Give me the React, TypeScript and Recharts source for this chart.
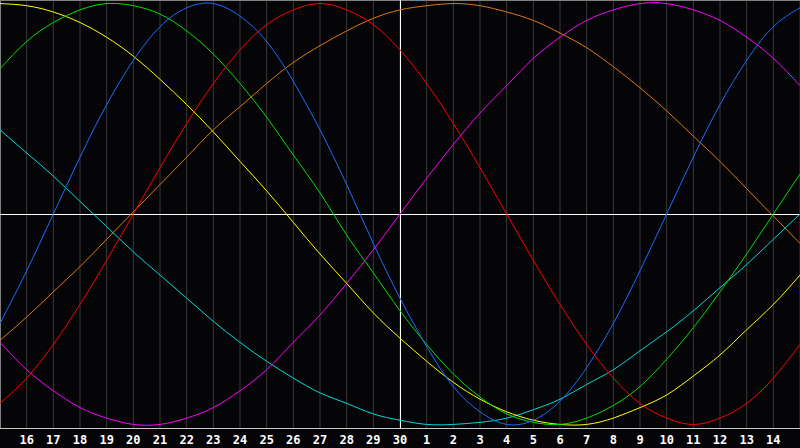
import React from 'react';
import { LineChart, Line, XAxis, YAxis, CartesianGrid, ReferenceLine } from 'recharts';

// day slots, -1 and 29 are the half-visible edges
const slots = [-1, 0, 1, 2, 3, 4, 5, 6, 7, 8, 9, 10, 11, 12, 13, 14, 15, 16, 17, 18, 19, 20, 21, 22, 23, 24, 25, 26, 27, 28, 29];
const dayLabels = ['16', '17', '18', '19', '20', '21', '22', '23', '24', '25', '26', '27', '28', '29', '30',
  '1', '2', '3', '4', '5', '6', '7', '8', '9', '10', '11', '12', '13', '14'];

const red = [-90, -78, -62, -43, -22, 0, 22, 43, 62, 78, 90, 97, 100, 97, 90, 78, 62, 43, 22, 0, -22, -43, -62, -78, -90, -97, -100, -97, -90, -78, -62];
const green = [69, 82, 91, 97, 100, 99, 95, 87, 76, 62, 46, 28, 10, -10, -28, -46, -62, -76, -87, -95, -99, -100, -97, -91, -82, -69, -54, -37, -19, 0, 19];
const blue = [-52, -27, 0, 27, 52, 73, 89, 98, 100, 94, 82, 63, 40, 14, -14, -40, -63, -82, -94, -100, -98, -89, -73, -52, -27, 0, 27, 52, 73, 89, 98];
const yellow = [100, 99, 96, 91, 84, 75, 64, 52, 39, 25, 11, -4, -19, -33, -47, -59, -70, -80, -88, -94, -98, -100, -100, -97, -92, -86, -77, -67, -55, -43, -29];
const magenta = [-61, -74, -84, -92, -97, -100, -100, -97, -92, -84, -74, -61, -48, -33, -17, 0, 17, 33, 48, 61, 74, 84, 92, 97, 100, 100, 97, 92, 84, 74, 61];
const cyan = [40, 29, 18, 6, -6, -18, -29, -40, -51, -61, -70, -78, -85, -90, -95, -98, -100, -100, -99, -97, -93, -88, -81, -74, -65, -56, -46, -35, -24, -12, 0];
const orange = [-60, -49, -37, -25, -12, 1, 14, 27, 40, 51, 62, 72, 80, 87, 93, 97, 99, 100, 99, 96, 92, 86, 79, 70, 60, 49, 37, 25, 12, -1, -14];

const data = slots.map((t, i) => ({
  t,
  red: red[i],
  green: green[i],
  blue: blue[i],
  yellow: yellow[i],
  magenta: magenta[i],
  cyan: cyan[i],
  orange: orange[i],
}));

const series = [
  { key: 'cyan', color: '#00d8d8' },
  { key: 'orange', color: '#e07810' },
  { key: 'magenta', color: '#ff00ff' },
  { key: 'yellow', color: '#ffff00' },
  { key: 'green', color: '#00e000' },
  { key: 'blue', color: '#1a6cff' },
  { key: 'red', color: '#ff0000' },
];

const ticks = dayLabels.map((_, i) => i);
const TOP = 101.7;

export default function App() {
  return (
    <div style={{ position: 'absolute', left: 0, top: 0, width: 800, height: 448, background: '#050508' }}>
      <LineChart width={800} height={448} data={data} margin={{ top: 0, right: 0, bottom: 0, left: 0 }}>
        <CartesianGrid horizontal={false} stroke="#3a3a3a" />
        <XAxis
          dataKey="t"
          type="number"
          domain={[-1, 29]}
          ticks={ticks}
          interval={0}
          height={20}
          tickLine={false}
          tickSize={5}
          tickMargin={2}
          axisLine={{ stroke: '#c8c8c8', shapeRendering: 'crispEdges' }}
          tickFormatter={(v) => dayLabels[v]}
          tick={{ fill: '#ffffff', fontFamily: 'DejaVu Sans Mono', fontWeight: 'bold', fontSize: 12 }}
        />
        <YAxis hide domain={[-TOP, TOP]} />
        <ReferenceLine x={-1} stroke="#808080" shapeRendering="crispEdges" />
        <ReferenceLine y={TOP} stroke="#808080" shapeRendering="crispEdges" />
        <ReferenceLine y={0} stroke="#ffffff" shapeRendering="crispEdges" />
        <ReferenceLine x={14} stroke="#ffffff" shapeRendering="crispEdges" />
        {series.map((s) => (
          <Line
            key={s.key}
            dataKey={s.key}
            type="natural"
            stroke={s.color}
            strokeWidth={1}
            dot={false}
            activeDot={false}
            isAnimationActive={false}
          />
        ))}
      </LineChart>
    </div>
  );
}
